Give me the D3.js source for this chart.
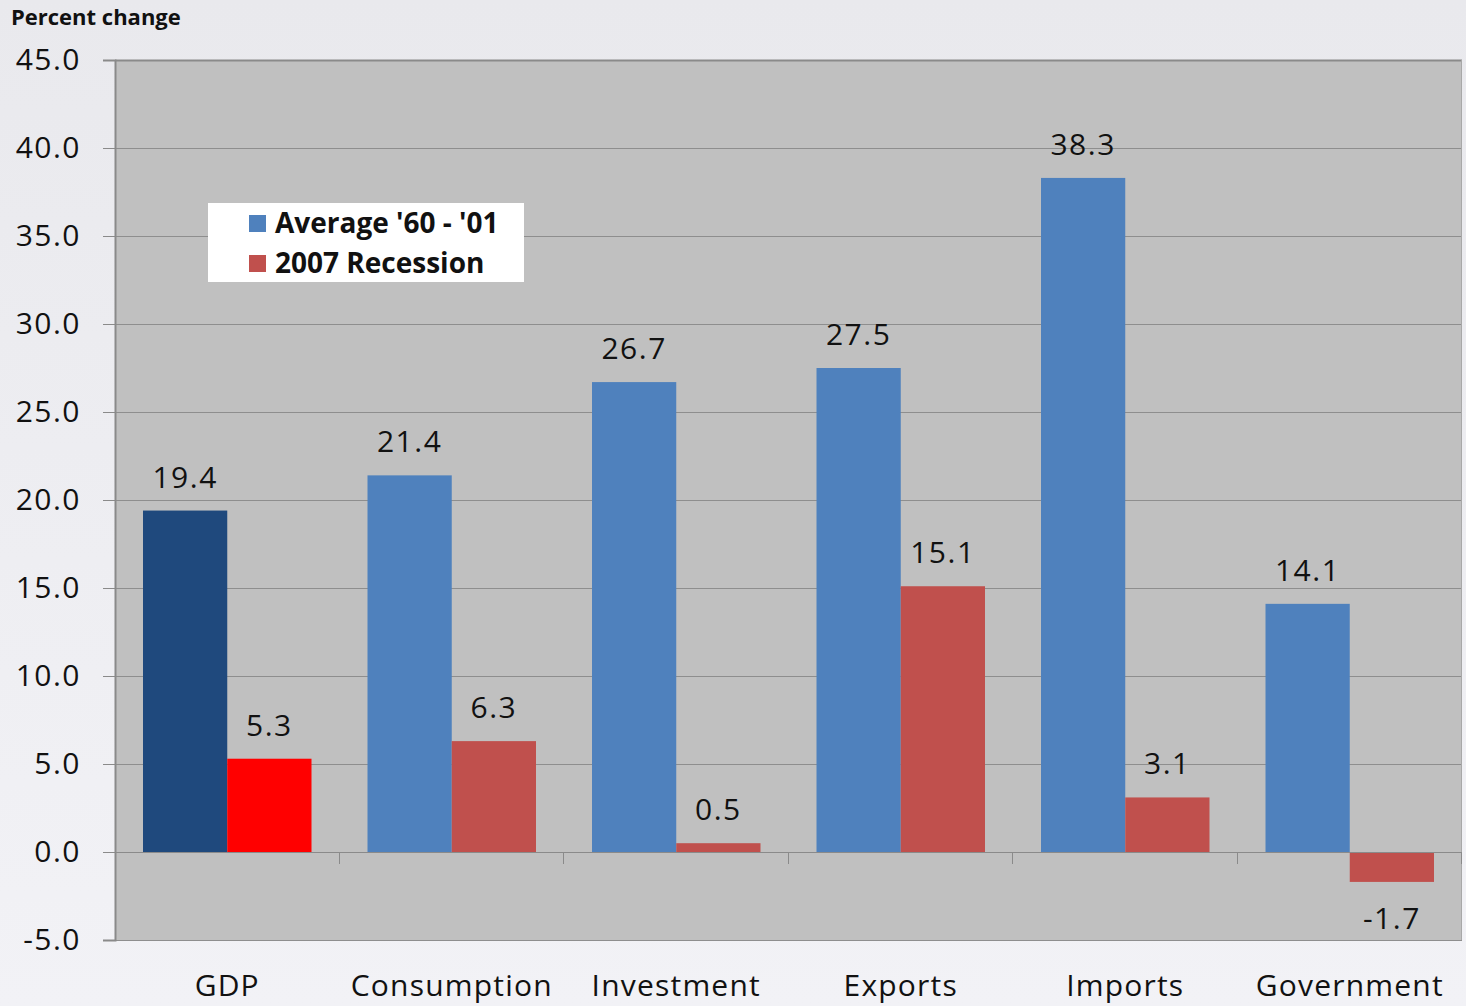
<!DOCTYPE html>
<html>
<head>
<meta charset="utf-8">
<script src="https://cdnjs.cloudflare.com/ajax/libs/d3/7.8.5/d3.min.js"></script>
<style>
  body { margin: 0; background: #eeeef2; }
  text { font-family: "Open Sans", "Noto Sans", sans-serif; }
</style>
</head>
<body>
<div id="chart"></div>
<script>
// chart data
var categories = ["GDP", "Consumption", "Investment", "Exports", "Imports", "Government"];
var seriesNames = ["Average '60 - '01", "2007 Recession"];
var average = [19.4, 21.4, 26.7, 27.5, 38.3, 14.1];
var recession = [5.3, 6.3, 0.5, 15.1, 3.1, -1.7];
var yTicks = [-5, 0, 5, 10, 15, 20, 25, 30, 35, 40, 45];

var W = 1466, H = 1006;
var margin = { left: 115, right: 4, top: 60, bottom: 66 };
var width = W - margin.left - margin.right,
    height = H - margin.top - margin.bottom;

// plain hyphen for negatives, like the original
var fmt = function(d){ return d3.format(".1f")(d).replace("\u2212", "-"); };

var svg = d3.select("#chart").append("svg")
    .attr("width", W)
    .attr("height", H);

// page background gradient
var defs = svg.append("defs");
var grad = defs.append("linearGradient")
    .attr("id", "bg").attr("x1", 0).attr("y1", 0).attr("x2", 0).attr("y2", 1);
grad.append("stop").attr("offset", "0%").attr("stop-color", "#e9e9ed");
grad.append("stop").attr("offset", "100%").attr("stop-color", "#f2f2f6");
svg.append("rect").attr("width", W).attr("height", H).attr("fill", "url(#bg)");

var g = svg.append("g")
    .attr("transform", "translate(" + margin.left + "," + margin.top + ")");

var x = d3.scaleBand()
    .domain(categories)
    .range([0, width])
    .paddingInner(0)
    .paddingOuter(0);

var x1 = d3.scaleBand()
    .domain([0, 1])
    .range([28, x.bandwidth() - 28]);

var y = d3.scaleLinear()
    .domain([-5, 45])
    .range([height, 0]);

// plot area
g.append("rect")
    .attr("width", width)
    .attr("height", height)
    .attr("fill", "#c0c0c0");

// gridlines
g.selectAll(".grid").data(yTicks).enter().append("line")
    .attr("class", "grid")
    .attr("x1", 0).attr("x2", width)
    .attr("y1", function(d){ return Math.round(y(d)) + 0.5; })
    .attr("y2", function(d){ return Math.round(y(d)) + 0.5; })
    .attr("stroke", function(d){ return d == 45 ? "#8a8a8a" : "#8e8e8e"; })
    .attr("stroke-width", function(d){ return d == 45 ? 2 : 1; });

// right border
g.append("line")
    .attr("x1", width - 0.5).attr("x2", width - 0.5)
    .attr("y1", 0).attr("y2", height)
    .attr("stroke", "#a8a8a8");

// bars
var colors = ["#4f81bd", "#c0504d"];
var gdpColors = ["#1f497d", "#ff0000"];
var series = [average, recession];

series.forEach(function(vals, s){
    g.selectAll(".bar" + s).data(vals).enter().append("rect")
        .attr("class", "bar" + s)
        .attr("x", function(d, i){ return x(categories[i]) + x1(s); })
        .attr("width", x1.bandwidth())
        .attr("y", function(d){ return y(Math.max(0, d)); })
        .attr("height", function(d){ return Math.abs(y(d) - y(0)); })
        .attr("fill", function(d, i){ return i == 0 ? gdpColors[s] : colors[s]; });

    g.selectAll(".lbl" + s).data(vals).enter().append("text")
        .attr("class", "lbl" + s)
        .attr("x", function(d, i){ return x(categories[i]) + x1(s) + x1.bandwidth() / 2; })
        .attr("y", function(d){ return d >= 0 ? y(d) - 23 : y(d) + 47; })
        .attr("text-anchor", "middle")
        .attr("font-size", "30px")
        .attr("letter-spacing", "1.5px")
        .attr("fill", "#111")
        .text(fmt);
});

// zero line
g.append("line")
    .attr("x1", 0).attr("x2", width)
    .attr("y1", Math.round(y(0)) + 0.5).attr("y2", Math.round(y(0)) + 0.5)
    .attr("stroke", "#8a8a8a");

// category tick marks on zero line
g.selectAll(".ctick").data(d3.range(1, categories.length + 1)).enter().append("line")
    .attr("class", "ctick")
    .attr("x1", function(d){ return Math.round(d * x.bandwidth()) - 0.5; })
    .attr("x2", function(d){ return Math.round(d * x.bandwidth()) - 0.5; })
    .attr("y1", y(0)).attr("y2", y(0) + 12)
    .attr("stroke", "#8a8a8a");

// y axis
var yAxis = g.append("g")
    .call(d3.axisLeft(y).tickValues(yTicks).tickFormat(fmt).tickSize(12).tickPadding(22));
yAxis.select(".domain").attr("stroke", "#8a8a8a").attr("stroke-width", 2);
yAxis.selectAll(".tick line").attr("stroke", "#8a8a8a");
yAxis.selectAll(".tick text")
    .attr("font-size", "30px")
    .attr("letter-spacing", "1.5px")
    .attr("font-family", "Open Sans, sans-serif")
    .attr("fill", "#111");

// category labels
g.selectAll(".cat").data(categories).enter().append("text")
    .attr("class", "cat")
    .attr("x", function(d){ return x(d) + x.bandwidth() / 2; })
    .attr("y", height + 56)
    .attr("text-anchor", "middle")
    .attr("font-size", "30px")
    .attr("letter-spacing", "1.2px")
    .attr("fill", "#111")
    .text(function(d){ return d; });

// axis title
svg.append("text")
    .attr("x", 11)
    .attr("y", 25)
    .attr("font-size", "22px")
    .attr("font-weight", "bold")
    .attr("fill", "#111")
    .text("Percent change");

// legend
var legend = svg.append("g").attr("transform", "translate(208,203)");
legend.append("rect")
    .attr("width", 316).attr("height", 79)
    .attr("fill", "#ffffff");
seriesNames.forEach(function(name, i){
    legend.append("rect")
        .attr("x", 41).attr("y", 12 + i * 40)
        .attr("width", 17).attr("height", 17)
        .attr("fill", colors[i]);
    legend.append("text")
        .attr("x", 67).attr("y", 30 + i * 40)
        .attr("font-size", "28px")
        .attr("font-weight", "bold")
        .attr("fill", "#111")
        .text(name);
});
</script>
</body>
</html>
